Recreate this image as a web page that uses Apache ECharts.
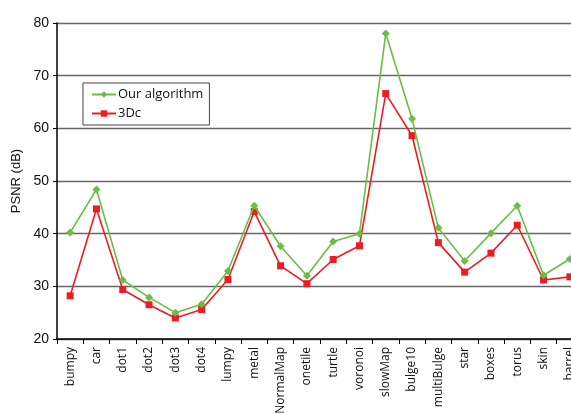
<!DOCTYPE html>
<html>
<head>
<meta charset="utf-8">
<script src="https://cdn.jsdelivr.net/npm/echarts@6/dist/echarts.min.js"></script>
<style>
html, body { margin: 0; padding: 0; background: #fff; }
#chart { width: 571px; height: 414px; }
</style>
</head>
<body>
<div id="chart"></div>
<script>
var categories = ['bumpy', 'car', 'dot1', 'dot2', 'dot3', 'dot4', 'lumpy', 'metal', 'NormalMap', 'onetile',
	'turtle', 'voronoi', 'slowMap', 'bulge10', 'multiBulge', 'star', 'boxes', 'torus', 'skin', 'barrel'];
var ourAlgorithm = [40.2, 48.4, 31.2, 27.9, 25.0, 26.6, 32.9, 45.3, 37.6, 32.0,
	38.5, 40.0, 78.0, 61.8, 41.1, 34.8, 40.1, 45.3, 32.1, 35.2];
var dc3 = [28.2, 44.7, 29.4, 26.5, 24.0, 25.6, 31.3, 44.2, 33.9, 30.5,
	35.1, 37.7, 66.6, 58.6, 38.3, 32.7, 36.3, 41.6, 31.2, 31.8];

var myChart = echarts.init(document.getElementById('chart'));
myChart.setOption({
	animation: false,
	// plot runs past the right edge, like the cropped original
	grid: { left: 57, top: 23, bottom: 75, right: -12, outerBoundsMode: 'none', containLabel: false },
	legend: {
		orient: 'vertical',
		left: 83,
		top: 83,
		padding: [5, 6, 5, 8],
		borderColor: '#444',
		borderWidth: 1,
		itemWidth: 24,
		itemHeight: 8,
		itemGap: 6,
		textStyle: { fontFamily: 'Open Sans', fontSize: 13, color: '#111', padding: [0, 0, 0, -3] },
		data: ['Our algorithm', '3Dc']
	},
	xAxis: {
		type: 'category',
		data: categories,
		boundaryGap: true,
		axisLine: { lineStyle: { color: '#000', width: 1.5 } },
		axisTick: { show: true, length: 5, lineStyle: { color: '#000' } },
		axisLabel: {
			rotate: 90,
			interval: 0,
			margin: 8,
			fontFamily: 'Open Sans',
			fontSize: 12,
			color: '#111'
		},
		splitLine: { show: false }
	},
	yAxis: {
		type: 'value',
		min: 20,
		max: 80,
		interval: 10,
		name: 'PSNR (dB)',
		nameLocation: 'middle',
		nameGap: 31,
		nameTextStyle: { fontFamily: 'Liberation Sans', fontSize: 13, color: '#111' },
		axisLine: { show: true, lineStyle: { color: '#000', width: 1.5 } },
		axisTick: { show: true, length: 4, lineStyle: { color: '#000' } },
		axisLabel: { fontFamily: 'Liberation Sans', fontSize: 14, color: '#111', margin: 8 },
		splitLine: { show: true, lineStyle: { color: '#666', width: 1.3 } }
	},
	series: [{
		name: 'Our algorithm',
		type: 'line',
		data: ourAlgorithm,
		symbol: 'diamond',
		symbolSize: 8,
		itemStyle: { color: '#6cbd45' },
		lineStyle: { color: '#6cbd45', width: 1.6 },
		z: 3
	}, {
		name: '3Dc',
		type: 'line',
		data: dc3,
		symbol: 'rect',
		symbolSize: 7,
		itemStyle: { color: '#ed1c24' },
		lineStyle: { color: '#ed1c24', width: 1.6 },
		z: 2
	}]
});
</script>
</body>
</html>
